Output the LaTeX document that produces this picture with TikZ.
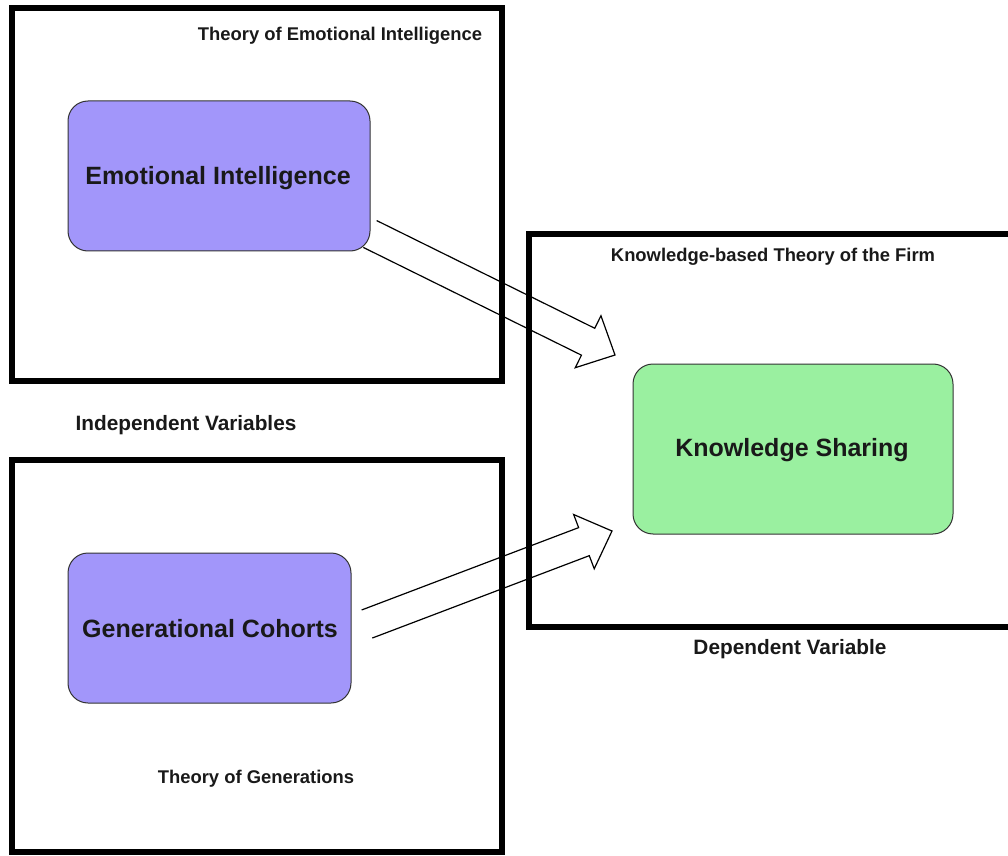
\documentclass[tikz,border=0pt]{standalone}
\usepackage{fontspec}
\setmainfont{Liberation Sans}
\usetikzlibrary{calc}

\definecolor{eipurple}{RGB}{162,150,250}
\definecolor{ksgreen}{RGB}{154,240,160}

% hollow block arrow from #1 (tail centre) to #2 (tip)
\newcommand{\fatarrow}[2]{%
  \coordinate (fa-base) at ($(#2)!15pt!(#1)$);
  \draw[line width=0.6pt] ($(#1)!7.5pt!90:(#2)$) -- ($(fa-base)!7.5pt!90:(#2)$)
    -- ($(fa-base)!14.5pt!90:(#2)$) -- (#2) -- ($(fa-base)!14.5pt!-90:(#2)$)
    -- ($(fa-base)!7.5pt!-90:(#2)$) -- ($(#1)!7.5pt!-90:(#2)$);
}

\begin{document}
\begin{tikzpicture}[x=0.5pt,y=-0.5pt,
    frame/.style={line width=2.8pt},
    var/.style={draw=black!80,line width=0.5pt,rounded corners=10pt},
    lbl/.style={font=\fontsize{9.2}{11}\selectfont\bfseries,text=black!90},
    lblbig/.style={font=\fontsize{10.4}{12}\selectfont\bfseries,text=black!90},
    big/.style={font=\fontsize{12.5}{15}\selectfont\bfseries,text=black!90}]
    \useasboundingbox (0,0) rectangle (1008,856);

    % theory frames
    \draw[frame] (12,8) rectangle (502,381);
    \draw[frame] (12,460) rectangle (502,852);
    \draw[frame] (529,234) rectangle (1020,627);

    \node[lbl] (tei) at (340,36) {Theory of Emotional Intelligence};
    \node[lblbig] (iv) at (186,425) {Independent Variables};
    \node[lbl] (tgen) at (256,779) {Theory of Generations};
    \node[lbl] (kbt) at (773,257) {Knowledge-based Theory of the Firm};
    \node[lblbig] (dv) at (790,649) {Dependent Variable};

    % variables
    \filldraw[var,fill=eipurple] (68,101) rectangle (370,251);
    \node[big] (ei) at (218,178) {Emotional Intelligence};
    \filldraw[var,fill=eipurple] (68,553) rectangle (351,703);
    \node[big] (gc) at (210,629) {Generational Cohorts};
    \filldraw[var,fill=ksgreen] (633,364) rectangle (953,534);
    \node[big] (ks) at (792,450) {Knowledge Sharing};

    % links
    \coordinate (ei-out) at (370,234);
    \coordinate (ks-in1) at (615,355);
    \coordinate (gc-out) at (367,624);
    \coordinate (ks-in2) at (612,531);
    \fatarrow{ei-out}{ks-in1}
    \fatarrow{gc-out}{ks-in2}
\end{tikzpicture}
\end{document}
